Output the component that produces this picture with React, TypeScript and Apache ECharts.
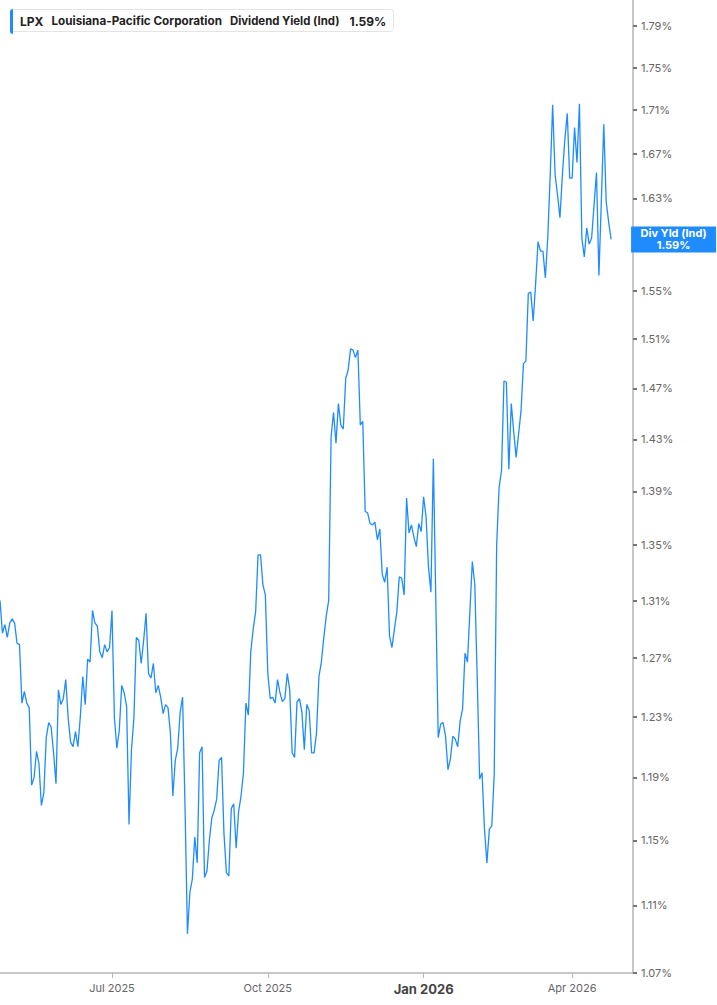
import { useEffect, useRef } from "react";
import * as echarts from "echarts";

// trading calendar for the category axis
const START_DATE = "2025-04-24";
const HOLIDAYS = [
  "2025-05-26", "2025-06-19", "2025-07-04", "2025-09-01", "2025-11-27",
  "2025-12-25", "2026-01-01", "2026-01-19", "2026-02-16", "2026-04-03",
];
const CATEGORY_COUNT = 261;

// x axis labels
const TICK_DATES = ["2025-07-01", "2025-10-01", "2026-01-02", "2026-04-01"];
const TICK_LABELS = ["Jul 2025", "Oct 2025", "Jan 2026", "Apr 2026"];

// y axis labels (%) - 1.59 sits under the last-value badge
const Y_TICKS = [
  1.07, 1.11, 1.15, 1.19, 1.23, 1.27, 1.31, 1.35, 1.39, 1.43, 1.47, 1.51,
  1.55, 1.63, 1.67, 1.71, 1.75, 1.79,
];
const Y_MIN = 1.07;
const Y_MAX = 1.8155;

// dividend yield (%), one value per trading day
const yieldApr24Jun30 = [
  1.31, 1.287, 1.293, 1.284, 1.294, 1.297, 1.294, 1.28, 1.279, 1.239,
  1.247, 1.239, 1.236, 1.185, 1.19, 1.207, 1.199, 1.172, 1.18, 1.216,
  1.226, 1.223, 1.206, 1.186, 1.248, 1.238, 1.242, 1.255, 1.229, 1.213,
  1.21, 1.22, 1.21, 1.23, 1.257, 1.238, 1.269, 1.267, 1.303, 1.294,
  1.292, 1.274, 1.27, 1.279, 1.274, 1.277,
];
const yieldJulSep = [
  1.303, 1.229, 1.209, 1.221, 1.251, 1.246, 1.237, 1.16, 1.208, 1.229,
  1.284, 1.282, 1.266, 1.282, 1.301, 1.259, 1.256, 1.266, 1.246, 1.251,
  1.243, 1.232, 1.238, 1.236, 1.219, 1.178, 1.201, 1.209, 1.233, 1.243,
  1.171, 1.093, 1.118, 1.126, 1.152, 1.136, 1.206, 1.21, 1.127, 1.131,
  1.15, 1.164, 1.169, 1.176, 1.201, 1.203, 1.154, 1.13, 1.128, 1.17,
  1.173, 1.145, 1.168, 1.178, 1.193, 1.239, 1.231, 1.274, 1.29, 1.302,
  1.343, 1.343, 1.321, 1.314,
];
const yieldOctDec = [
  1.259, 1.242, 1.243, 1.239, 1.255, 1.246, 1.24, 1.242, 1.259, 1.248,
  1.206, 1.203, 1.24, 1.242, 1.233, 1.208, 1.238, 1.234, 1.206, 1.206,
  1.219, 1.257, 1.267, 1.284, 1.299, 1.31, 1.432, 1.451, 1.427, 1.458,
  1.441, 1.438, 1.478, 1.485, 1.502, 1.501, 1.495, 1.501, 1.441, 1.444,
  1.375, 1.374, 1.366, 1.365, 1.367, 1.354, 1.362, 1.329, 1.323, 1.334,
  1.285, 1.277, 1.29, 1.302, 1.327, 1.326, 1.314, 1.385, 1.359, 1.365,
  1.356, 1.349, 1.366, 1.36,
];
const yieldJanMar = [
  1.386, 1.371, 1.334, 1.316, 1.415, 1.31, 1.216, 1.225, 1.226, 1.217,
  1.195, 1.202, 1.217, 1.215, 1.21, 1.227, 1.235, 1.273, 1.267, 1.302,
  1.338, 1.322, 1.257, 1.189, 1.193, 1.157, 1.136, 1.157, 1.159, 1.192,
  1.35, 1.393, 1.406, 1.476, 1.475, 1.407, 1.458, 1.436, 1.416, 1.434,
  1.452, 1.49, 1.492, 1.548, 1.549, 1.525, 1.556, 1.592, 1.584, 1.584,
  1.561, 1.596, 1.651, 1.715, 1.651, 1.633, 1.613, 1.651, 1.683, 1.707,
  1.648,
];
const yieldApr = [
  1.648, 1.694, 1.662, 1.716, 1.595, 1.579, 1.604, 1.59, 1.595, 1.624,
  1.653, 1.563, 1.628, 1.697, 1.627, 1.609, 1.594,
];

const LINE_COLOR = "#1e8cff";

function tradingDays(start: string, count: number): string[] {
  const out: string[] = [];
  const d = new Date(start + "T00:00:00Z");
  while (out.length < count) {
    const iso = d.toISOString().slice(0, 10);
    const wd = d.getUTCDay();
    if (wd !== 0 && wd !== 6 && !HOLIDAYS.includes(iso)) out.push(iso);
    d.setUTCDate(d.getUTCDate() + 1);
  }
  return out;
}

export default function App() {
  const ref = useRef<HTMLDivElement>(null);

  useEffect(() => {
    if (!ref.current) return;
    const chart = echarts.init(ref.current, null, { renderer: "svg" });

    const dates = tradingDays(START_DATE, CATEGORY_COUNT);
    const yields = [
      ...yieldApr24Jun30,
      ...yieldJulSep,
      ...yieldOctDec,
      ...yieldJanMar,
      ...yieldApr,
    ];
    const lastIdx = yields.length - 1;
    const last = yields[lastIdx];
    const isTick = (_i: number, value: string) => TICK_DATES.includes(value);

    chart.setOption({
      animation: false,
      backgroundColor: "#fff",
      textStyle: { fontFamily: "Inter" },
      title: {
        left: 10,
        top: 9,
        padding: [6, 7, 5, 10],
        backgroundColor: "#fff",
        borderColor: "#e4e4e4",
        borderWidth: 1,
        borderRadius: 3,
        text: "{a|LPX}{b|Louisiana-Pacific Corporation}{c|Dividend Yield (Ind)}{d|1.59%}",
        textStyle: {
          fontFamily: "Inter",
          fontSize: 12,
          rich: {
            a: { fontFamily: "Inter", fontSize: 12, fontWeight: "bold", color: "#222", padding: [0, 8, 0, 0] },
            b: { fontFamily: "Inter", fontSize: 11.7, fontWeight: "bold", color: "#222", padding: [0, 8, 0, 0] },
            c: { fontFamily: "Inter", fontSize: 11.4, color: "#222", padding: [0, 10, 0, 0] },
            d: { fontFamily: "Inter", fontSize: 12, fontWeight: "bold", color: "#222" },
          },
        },
      },
      graphic: [
        {
          type: "rect",
          left: 10,
          top: 9,
          z: 100,
          shape: { width: 3, height: 25, r: [3, 0, 0, 3] },
          style: { fill: LINE_COLOR },
        },
      ],
      grid: { left: 0, right: 84, top: 0, bottom: 32 },
      xAxis: {
        type: "category",
        data: dates,
        boundaryGap: false,
        axisLine: { lineStyle: { color: "#b5b5b5", width: 1.5 } },
        axisTick: { interval: isTick, length: 5, lineStyle: { color: "#b5b5b5" } },
        axisLabel: {
          interval: isTick,
          margin: 9,
          fontFamily: "Inter",
          fontSize: 11,
          color: "#666",
          formatter: (value: string) => {
            const label = TICK_LABELS[TICK_DATES.indexOf(value)] ?? "";
            return label.startsWith("Jan") ? `{y|${label}}` : label;
          },
          rich: {
            y: { fontFamily: "Inter", fontSize: 13, fontWeight: "bold", color: "#444" },
          },
        },
        splitLine: { show: false },
      },
      yAxis: {
        type: "value",
        position: "right",
        min: Math.log(Y_MIN),
        max: Math.log(Y_MAX),
        axisLine: { show: true, lineStyle: { color: "#b5b5b5", width: 1.5 } },
        axisTick: {
          show: true,
          length: 4,
          customValues: Y_TICKS.map((v) => Math.log(v)),
          lineStyle: { color: "#777", width: 2 },
        },
        axisLabel: {
          customValues: Y_TICKS.map((v) => Math.log(v)),
          margin: 8,
          fontFamily: "Inter",
          fontSize: 11,
          color: "#666",
          formatter: (v: number) => Math.exp(v).toFixed(2) + "%",
        },
        splitLine: { show: false },
      },
      series: [
        {
          type: "line",
          data: yields.map((v) => Math.log(v)),
          showSymbol: false,
          lineStyle: { color: LINE_COLOR, width: 1.3 },
          itemStyle: { color: LINE_COLOR },
          markPoint: {
            symbol: "circle",
            symbolSize: 0,
            data: [{ coord: [dates[lastIdx], Math.log(last)] }],
            label: {
              show: true,
              position: "right",
              distance: 20,
              width: 85,
              padding: [1, 0, 1, 0],
              backgroundColor: LINE_COLOR,
              formatter: `{t|Div Yld (Ind)}\n{t|${last.toFixed(2)}%}`,
              rich: {
                t: {
                  fontFamily: "Inter",
                  fontSize: 11,
                  fontWeight: "bold",
                  color: "#fff",
                  lineHeight: 12,
                  align: "center",
                  width: 85,
                },
              },
            },
          },
        },
      ],
    });

    return () => chart.dispose();
  }, []);

  return (
    <div
      ref={ref}
      style={{ position: "fixed", left: 0, top: 0, width: 717, height: 1005 }}
    />
  );
}
